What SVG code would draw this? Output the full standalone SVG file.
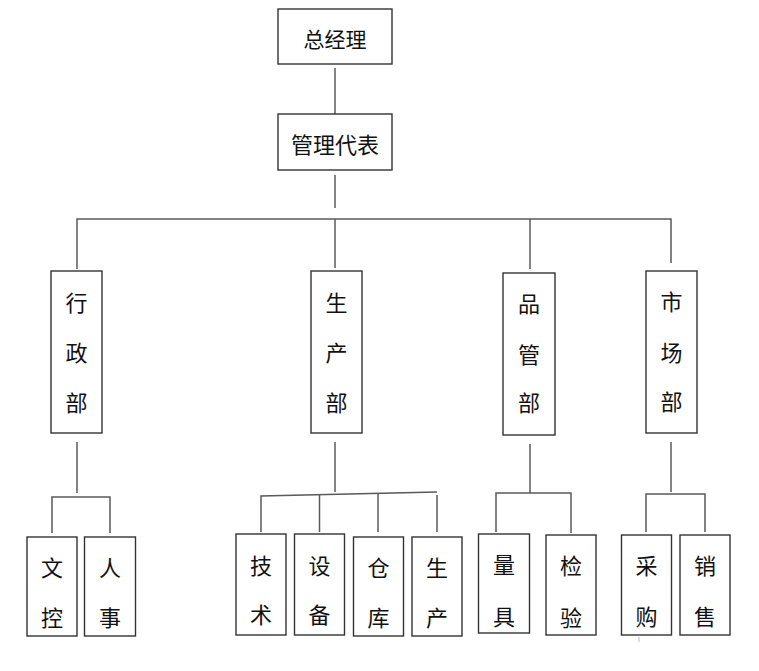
<svg xmlns="http://www.w3.org/2000/svg" width="759" height="671" viewBox="0 0 759 671">
<style>
.box{fill:#fff;stroke:#333;stroke-width:1.4}
.ln{stroke:#5a5a5a;stroke-width:1.5;fill:none}
text{font-family:"Noto Sans CJK SC","Noto Sans",sans-serif;font-size:22px;fill:#111;text-anchor:middle;dominant-baseline:central}
</style>
<rect width="759" height="671" fill="#fff"/>
<g id="connectors">
<line class="ln" x1="335" y1="68" x2="335" y2="114"/>
<line class="ln" x1="335" y1="175" x2="335" y2="208"/>
<polyline class="ln" points="77,269 77,219 671,219 671,263"/>
<line class="ln" x1="335" y1="219" x2="335" y2="268"/>
<line class="ln" x1="530" y1="219" x2="530" y2="269"/>
<line class="ln" x1="77" y1="442" x2="77" y2="493"/>
<polyline class="ln" points="52,533 52,497 110,497 110,533"/>
<line class="ln" x1="335" y1="442" x2="335" y2="492"/>
<polyline class="ln" points="261,532 261,496 437,492"/>
<line class="ln" x1="319.5" y1="495" x2="319.5" y2="532"/>
<line class="ln" x1="378" y1="494" x2="378" y2="532"/>
<line class="ln" x1="437" y1="495" x2="437" y2="532"/>
<line class="ln" x1="530" y1="444" x2="530" y2="493"/>
<polyline class="ln" points="496,532 496,493 571,493 571,533"/>
<line class="ln" x1="671" y1="442" x2="671" y2="492"/>
<polyline class="ln" points="646,532 646,494 705,494 705,532"/>
<line x1="639" y1="637" x2="639" y2="642" stroke="#bbb" stroke-width="1"/>
</g>
<g id="n-zjl"><rect class="box" x="278" y="9" width="114" height="55"/><text x="335" y="38" style="font-size:21px">总经理</text></g>
<g id="n-gldb"><rect class="box" x="278" y="114" width="114" height="56"/><text x="335" y="143">管理代表</text></g>
<g id="n-xzb"><rect class="box" x="51" y="271" width="51" height="162"/><text x="76.5" y="301">行</text><text x="76.5" y="351">政</text><text x="76.5" y="401">部</text></g>
<g id="n-scb"><rect class="box" x="311" y="271" width="51" height="162"/><text x="336.5" y="301">生</text><text x="336.5" y="351">产</text><text x="336.5" y="401">部</text></g>
<g id="n-pgb"><rect class="box" x="503" y="273" width="52" height="162"/><text x="529" y="302">品</text><text x="529" y="353">管</text><text x="529" y="401">部</text></g>
<g id="n-scb2"><rect class="box" x="646" y="271" width="51" height="162"/><text x="671.5" y="300">市</text><text x="671.5" y="351">场</text><text x="671.5" y="400">部</text></g>
<g id="n-wk"><rect class="box" x="27" y="537" width="50" height="99"/><text x="52" y="566">文</text><text x="52" y="616">控</text></g>
<g id="n-rs"><rect class="box" x="84.5" y="537" width="51" height="99"/><text x="110" y="566">人</text><text x="110" y="616">事</text></g>
<g id="n-js"><rect class="box" x="236" y="534" width="50" height="101"/><text x="261" y="564">技</text><text x="261" y="613">术</text></g>
<g id="n-sb"><rect class="box" x="294.5" y="534" width="50" height="101"/><text x="319.5" y="564">设</text><text x="319.5" y="613">备</text></g>
<g id="n-ck"><rect class="box" x="353.5" y="537" width="50" height="99"/><text x="378.5" y="566">仓</text><text x="378.5" y="616">库</text></g>
<g id="n-sc"><rect class="box" x="412" y="537" width="50" height="99"/><text x="437" y="566">生</text><text x="437" y="616">产</text></g>
<g id="n-lj"><rect class="box" x="478.5" y="534" width="51" height="99"/><text x="504" y="563">量</text><text x="504" y="615">具</text></g>
<g id="n-jy"><rect class="box" x="546" y="535" width="50" height="100"/><text x="571" y="564">检</text><text x="571" y="616">验</text></g>
<g id="n-cg"><rect class="box" x="621.5" y="535" width="50" height="100"/><text x="646.5" y="564">采</text><text x="646.5" y="615">购</text></g>
<g id="n-xs"><rect class="box" x="680" y="535" width="50" height="100"/><text x="705" y="564">销</text><text x="705" y="615">售</text></g>
</svg>
